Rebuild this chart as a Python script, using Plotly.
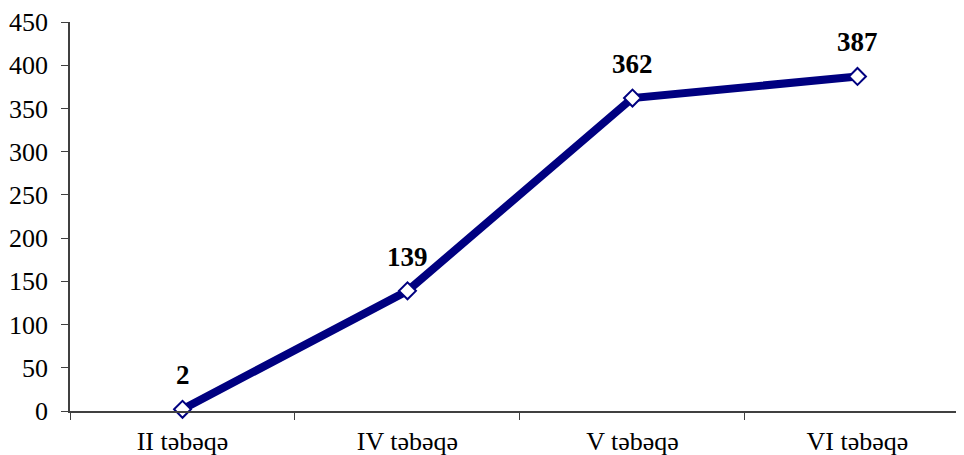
import plotly.graph_objects as go

categories = ["II təbəqə", "IV təbəqə", "V təbəqə", "VI təbəqə"]
values = [2, 139, 362, 387]
labels = [str(v) for v in values]

fig = go.Figure()
fig.add_trace(go.Scatter(
    x=categories, y=values, mode="lines+markers",
    line=dict(color="#000080", width=8),
    marker=dict(symbol="diamond", size=13, color="white",
                line=dict(color="#000080", width=2)),
    cliponaxis=False,
))

for c, v, t in zip(categories, values, labels):
    fig.add_annotation(
        x=c, y=v, text=t, showarrow=False, yshift=34,
        yanchor="middle", xanchor="center",
        font=dict(family="Liberation Serif", size=27, color="black", weight="bold"),
    )

fig.update_layout(
    width=964, height=455,
    margin=dict(l=62, r=0, t=14, b=52),
    plot_bgcolor="white", paper_bgcolor="white",
    showlegend=False,
    font=dict(family="Liberation Serif", size=26, color="black"),
)
fig.update_xaxes(
    type="category", range=[-0.5, 3.509], automargin=False,
    showline=True, linecolor="#404040", linewidth=1.5,
    ticks="outside", tickson="boundaries", ticklen=7, tickcolor="#404040",
    showgrid=False, zeroline=False, ticklabelstandoff=6,
    tickfont=dict(family="Liberation Serif", size=26),
)
fig.update_yaxes(
    range=[0, 450], dtick=50, automargin=False,
    showline=True, linecolor="#404040", linewidth=1.5,
    ticks="outside", ticklen=7, tickcolor="#404040",
    showgrid=False, zeroline=False, ticklabelstandoff=8,
    tickfont=dict(family="Liberation Serif", size=26),
)
fig.write_html("out.html")
